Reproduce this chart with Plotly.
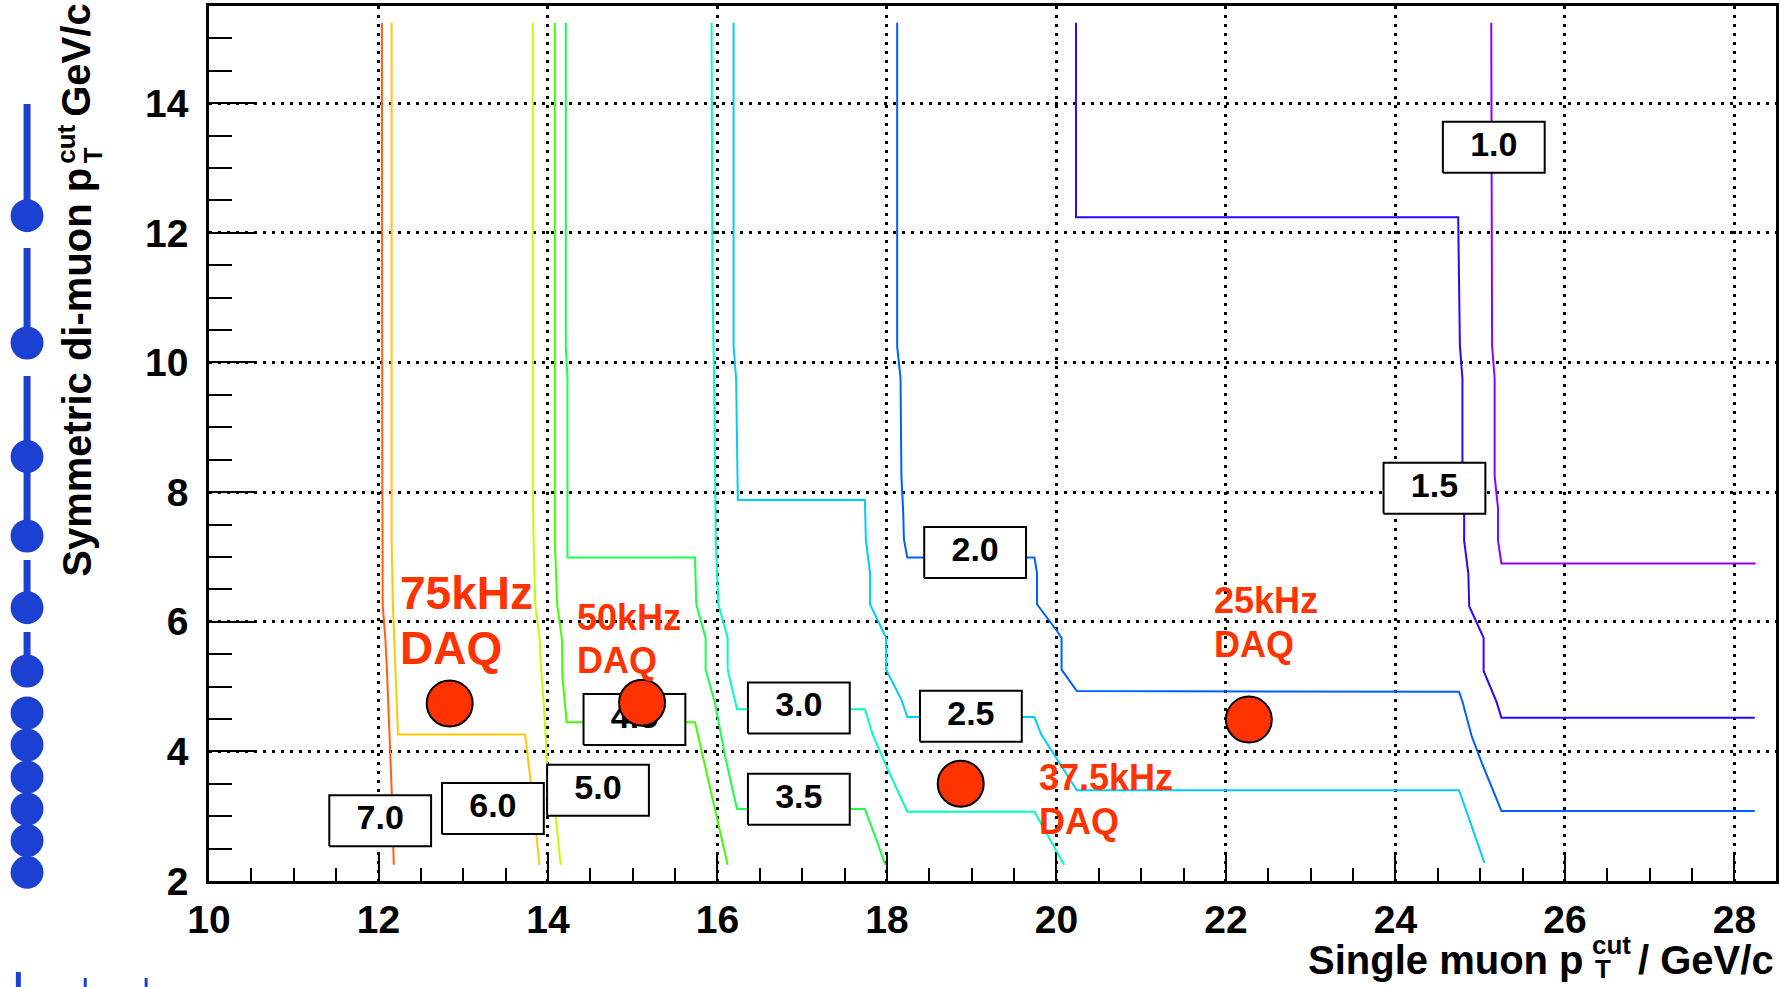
import plotly.graph_objects as go

# ---------------------------------------------------------------------------
# Rate contours: single muon pT cut (x) vs symmetric di-muon pT cut (y)
# ---------------------------------------------------------------------------
levels = ["7.0", "6.0", "5.0", "4.5", "3.5", "3.0", "2.5", "2.0", "1.5", "1.0"]

c70_x = [12.04, 12.04, 12.045, 12.05, 12.08, 12.10, 12.13, 12.16, 12.18]
c70_y = [15.24, 10.25, 8.25, 6.25, 5.75, 5.25, 4.25, 3.25, 2.25]

c60_x = [12.155, 12.155, 12.17, 12.20, 12.23, 13.73, 13.79, 13.90]
c60_y = [15.24, 7.25, 6.25, 5.25, 4.26, 4.26, 3.60, 2.25]

c50_x = [13.82, 13.82, 13.83, 13.85, 13.90, 13.92, 13.95, 13.97, 13.99, 14.05, 14.09, 14.15]
c50_y = [15.24, 8.25, 7.25, 6.25, 5.75, 5.25, 4.75, 4.25, 3.80, 3.25, 3.00, 2.25]

c45_x = [14.08, 14.08, 14.11, 14.165, 14.17, 14.22, 15.735, 15.97, 16.12]
c45_y = [15.24, 7.25, 6.25, 5.73, 5.16, 4.45, 4.45, 3.10, 2.25]

c35_x = [14.21, 14.21, 14.23, 14.23, 15.735, 15.75, 15.86, 15.86, 15.97, 16.09, 16.23, 17.74, 17.86, 17.98]
c35_y = [15.24, 10.25, 9.75, 6.99, 6.99, 6.27, 5.75, 5.26, 4.75, 3.92, 3.11, 3.11, 2.69, 2.25]

c30_x = [15.93, 15.94, 15.96, 15.97, 15.98, 16.01, 16.12, 16.12, 16.23, 17.74, 17.83, 18.01, 18.24, 19.74, 20.09]
c30_y = [15.24, 11.25, 9.75, 8.00, 7.22, 6.27, 5.75, 5.26, 4.65, 4.65, 4.26, 3.72, 3.07, 3.07, 2.25]

c25_x = [16.19, 16.19, 16.22, 16.23, 16.24, 17.74, 17.75, 17.80, 17.80, 17.99, 17.99, 18.17, 18.24,
         19.74, 19.82, 20.24, 24.75, 25.05]
c25_y = [15.24, 10.25, 9.75, 8.25, 7.88, 7.88, 7.27, 6.75, 6.27, 5.75, 5.26, 4.80, 4.53,
         4.53, 4.26, 3.40, 3.40, 2.28]

c20_x = [18.12, 18.12, 18.16, 18.17, 18.19, 18.20, 18.24, 19.74, 19.77, 19.77, 20.01, 20.06, 20.06,
         20.24, 24.75, 24.79, 24.90, 25.02, 25.25, 28.24]
c20_y = [15.24, 10.25, 9.75, 8.25, 7.73, 7.27, 6.99, 6.99, 6.75, 6.27, 5.85, 5.75, 5.26,
         4.93, 4.92, 4.77, 4.23, 3.82, 3.08, 3.08]

c15_x = [20.23, 20.23, 24.74, 24.76, 24.79, 24.79, 24.81, 24.81, 24.86, 24.87, 25.04, 25.04, 25.19, 25.25, 28.24]
c15_y = [15.24, 12.24, 12.24, 10.26, 9.75, 8.44, 7.69, 7.25, 6.74, 6.24, 5.75, 5.24, 4.77, 4.52, 4.52]

c10_x = [25.13, 25.14, 25.17, 25.17, 25.21, 25.21, 25.25, 28.25]
c10_y = [15.24, 10.26, 9.76, 8.25, 7.75, 7.25, 6.90, 6.90]

contours_x = [c70_x, c60_x, c50_x, c45_x, c35_x, c30_x, c25_x, c20_x, c15_x, c10_x]
contours_y = [c70_y, c60_y, c50_y, c45_y, c35_y, c30_y, c25_y, c20_y, c15_y, c10_y]
contour_colors = ["#ff6010", "#ffc800", "#c0ff00", "#40ff00", "#1aff4a",
                  "#00ffc0", "#00ccff", "#0060ff", "#2a08ff", "#9000ff"]

# Contour label anchor points
label_x = [12.02, 13.35, 14.59, 15.02, 16.96, 16.96, 18.99, 19.04, 24.46, 25.16]
label_y = [2.93, 3.12, 3.40, 4.49, 3.26, 4.67, 4.54, 7.07, 8.06, 13.32]

# DAQ working points
daq_rates = ["75kHz", "50kHz", "37.5kHz", "25kHz"]
daq_x = [12.84, 15.11, 18.87, 22.27]
daq_y = [4.74, 4.75, 3.50, 4.49]
# text placement of the rate / "DAQ" lines next to each point
rate_text_x = [12.233, 14.316, 19.774, 21.84]
rate_text_y = [6.45, 6.07, 3.60, 6.33]
daq_text_y = [5.59, 5.40, 2.92, 5.65]
rate_text_size = [46, 36, 36, 36]

x_ticks = [10, 12, 14, 16, 18, 20, 22, 24, 26, 28]
y_ticks = [2, 4, 6, 8, 10, 12, 14]

# ---------------------------------------------------------------------------
W, H = 1780, 987
ML, MR, MT, MB = 209, 1, 6, 106
PW, PH = W - ML - MR, H - MT - MB
XR = [10, 28.49]
YR = [2, 15.5]
px_per_x = PW / (XR[1] - XR[0])
px_per_y = PH / (YR[1] - YR[0])

FONT = "Liberation Sans, Arial, Helvetica, sans-serif"
RED = "#ff3300"
BLUE = "#1c40d2"


def paper_x(px):
    return (px - ML) / PW


def paper_y(py):
    return (H - MB - py) / PH


fig = go.Figure()

# contour lines
for xs, ys, col in zip(contours_x, contours_y, contour_colors):
    fig.add_trace(go.Scatter(x=xs, y=ys, mode="lines",
                             line=dict(color=col, width=2),
                             hoverinfo="skip", showlegend=False))

# white label boxes sitting on the contours
bw = 51 / px_per_x
bh = 25.5 / px_per_y
box_x, box_y = [], []
for cx, cy in zip(label_x, label_y):
    box_x += [cx - bw, cx + bw, cx + bw, cx - bw, cx - bw, None]
    box_y += [cy - bh, cy - bh, cy + bh, cy + bh, cy - bh, None]
fig.add_trace(go.Scatter(x=box_x, y=box_y, mode="lines", fill="toself",
                         fillcolor="white", line=dict(color="black", width=2),
                         hoverinfo="skip", showlegend=False))
fig.add_trace(go.Scatter(x=label_x, y=label_y, mode="text", text=levels,
                         textposition="middle center",
                         textfont=dict(family=FONT, size=34, color="black", weight="bold"),
                         hoverinfo="skip", showlegend=False))

# DAQ working points
fig.add_trace(go.Scatter(x=daq_x, y=daq_y, mode="markers",
                         marker=dict(size=46, color=RED, line=dict(color="black", width=2)),
                         hoverinfo="skip", showlegend=False))

annotations = []
for tx, ty, dy, rate, fs in zip(rate_text_x, rate_text_y, daq_text_y, daq_rates, rate_text_size):
    annotations.append(dict(x=tx, y=ty, xref="x", yref="y", text=rate, showarrow=False,
                            xanchor="left", yanchor="middle",
                            font=dict(family=FONT, size=fs, color=RED, weight="bold")))
    annotations.append(dict(x=tx, y=dy, xref="x", yref="y", text="DAQ", showarrow=False,
                            xanchor="left", yanchor="middle",
                            font=dict(family=FONT, size=fs, color=RED, weight="bold")))

# axis titles, with stacked sub/superscripts
TF = dict(family=FONT, size=40, color="black", weight="bold")
SF = dict(family=FONT, size=26, color="black", weight="bold")
annotations += [
    dict(x=paper_x(1589), y=paper_y(960), xref="paper", yref="paper", text="Single muon p",
         showarrow=False, xanchor="right", yanchor="middle", font=TF),
    dict(x=paper_x(1593), y=paper_y(945), xref="paper", yref="paper", text="cut",
         showarrow=False, xanchor="left", yanchor="middle", font=SF),
    dict(x=paper_x(1596), y=paper_y(969), xref="paper", yref="paper", text="T",
         showarrow=False, xanchor="left", yanchor="middle", font=SF),
    dict(x=paper_x(1779), y=paper_y(960), xref="paper", yref="paper", text="/ GeV/c",
         showarrow=False, xanchor="right", yanchor="middle", font=TF),
    dict(x=paper_x(76), y=paper_y(166), xref="paper", yref="paper", text="Symmetric di-muon p",
         showarrow=False, xanchor="center", yanchor="top", textangle=-90, font=TF),
    dict(x=paper_x(66), y=paper_y(123), xref="paper", yref="paper", text="cut",
         showarrow=False, xanchor="center", yanchor="top", textangle=-90, font=SF),
    dict(x=paper_x(93), y=paper_y(145), xref="paper", yref="paper", text="T",
         showarrow=False, xanchor="center", yanchor="top", textangle=-90, font=SF),
    dict(x=paper_x(76), y=paper_y(119), xref="paper", yref="paper", text="GeV/c",
         showarrow=False, xanchor="center", yanchor="bottom", textangle=-90, font=TF),
]

# blue bead column on the left margin
shapes = []
bead_y = [215.7, 343, 456.6, 536, 607.7, 671, 713, 745, 777, 809, 840.5, 872.3]
stems = [(104, 214), (248, 343), (376, 453), (471, 535), (560, 604), (632, 672)]
bead_cx = 26.7
for y0, y1 in stems:
    shapes.append(dict(type="rect", xref="paper", yref="paper",
                       x0=paper_x(bead_cx - 3.5), x1=paper_x(bead_cx + 3.5),
                       y0=paper_y(y1), y1=paper_y(y0),
                       fillcolor=BLUE, line=dict(width=0), layer="above"))
for by in bead_y:
    shapes.append(dict(type="circle", xref="paper", yref="paper",
                       x0=paper_x(bead_cx - 16.5), x1=paper_x(bead_cx + 16.5),
                       y0=paper_y(by + 16.5), y1=paper_y(by - 16.5),
                       fillcolor=BLUE, line=dict(width=0), layer="above"))
for mx, mw, mtop in [(18, 5, 972), (85, 3, 978), (146, 3, 978)]:
    shapes.append(dict(type="rect", xref="paper", yref="paper",
                       x0=paper_x(mx - mw / 2), x1=paper_x(mx + mw / 2),
                       y0=paper_y(987), y1=paper_y(mtop),
                       fillcolor=BLUE, line=dict(width=0), layer="above"))

axis_common = dict(
    showline=True, linecolor="black", linewidth=2.5, mirror=True,
    showgrid=True, gridcolor="black", gridwidth=2.5, griddash="3px,6px",
    zeroline=False, ticks="inside", tickcolor="black", tickwidth=2,
    tickfont=dict(family=FONT, size=39, color="black", weight="bold"),
)

fig.update_layout(
    width=W, height=H,
    margin=dict(l=ML, r=MR, t=MT, b=MB, pad=0),
    paper_bgcolor="white", plot_bgcolor="white",
    hovermode=False, showlegend=False,
    xaxis=dict(range=XR, tickmode="array", tickvals=x_ticks, ticklen=28,
               ticklabelstandoff=2,
               minor=dict(dtick=0.5, tick0=10, ticks="inside", ticklen=13,
                          tickwidth=2, tickcolor="black", showgrid=False),
               **axis_common),
    yaxis=dict(range=YR, tickmode="array", tickvals=y_ticks, ticklen=47,
               ticklabelstandoff=10,
               minor=dict(dtick=0.5, tick0=2, ticks="inside", ticklen=23,
                          tickwidth=2, tickcolor="black", showgrid=False),
               **axis_common),
    annotations=annotations,
    shapes=shapes,
)

fig.write_html("out.html")
